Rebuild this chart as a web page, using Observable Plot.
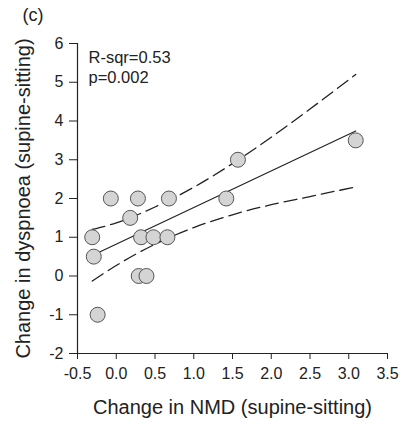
<!DOCTYPE html>
<html>
<head>
<meta charset="utf-8">
<script src="https://cdn.jsdelivr.net/npm/d3@7"></script>
<script src="https://cdn.jsdelivr.net/npm/@observablehq/plot@0.6"></script>
<style>
  html, body { margin: 0; padding: 0; background: white; }
</style>
</head>
<body>
<div id="chart"></div>
<script>
// Data
const nmd       = [-0.31, -0.29, -0.24, -0.07, 0.18, 0.28, 0.29, 0.32, 0.39, 0.48, 0.66, 0.68, 1.42, 1.57, 3.09];
const dyspnoea  = [1, 0.5, -1, 2, 1.5, 2, 0, 1, 0, 1, 1, 2, 2, 3, 3.5];

const fitX  = [-0.31, 3.09];
const fitY  = [0.53, 3.74];

const ciX   = [-0.31, 0, 0.5, 1.0, 1.5, 2.0, 2.5, 3.09];
const upper = [1.20, 1.37, 1.78, 2.29, 2.90, 3.58, 4.31, 5.20];
const lower = [-0.13, 0.27, 0.82, 1.25, 1.58, 1.84, 2.05, 2.30];

const xTicks = [-0.5, 0.0, 0.5, 1.0, 1.5, 2.0, 2.5, 3.0, 3.5];
const yTicks = [-2, -1, 0, 1, 2, 3, 4, 5, 6];

const panelLabel = "(c)";
const statLines = ["R-sqr=0.53", "p=0.002"];
const xLabel = "Change in NMD (supine-sitting)";
const yLabel = "Change in dyspnoea (supine-sitting)";

const points = nmd.map((x, i) => ({x, y: dyspnoea[i]}));
const fit = fitX.map((x, i) => ({x, y: fitY[i]}));
const up = ciX.map((x, i) => ({x, y: upper[i]}));
const lo = ciX.map((x, i) => ({x, y: lower[i]}));

const ink = "#222";
const dash = "13,6";

const chart = Plot.plot({
  width: 409,
  height: 427,
  marginLeft: 77,
  marginRight: 22,
  marginTop: 43,
  marginBottom: 74,
  style: {fontFamily: "'Liberation Sans', Arial, sans-serif", fontSize: "16px", color: ink, background: "white"},
  x: {domain: [-0.5, 3.5]},
  y: {domain: [-2, 6]},
  marks: [
    Plot.axisX({ticks: xTicks, tickFormat: d => d.toFixed(1), tickSize: 6, tickPadding: 8, label: null, fontSize: 16}),
    Plot.axisY({ticks: yTicks, tickFormat: d => String(d), tickSize: 8, tickPadding: 6, label: null, fontSize: 16}),
    Plot.ruleX([-0.5], {stroke: ink, strokeWidth: 1.2}),
    Plot.ruleY([-2], {stroke: ink, strokeWidth: 1.2}),
    Plot.line(up, {x: "x", y: "y", curve: "monotone-x", stroke: ink, strokeWidth: 1.3, strokeDasharray: dash}),
    Plot.line(lo, {x: "x", y: "y", curve: "monotone-x", stroke: ink, strokeWidth: 1.3, strokeDasharray: dash}),
    Plot.line(fit, {x: "x", y: "y", stroke: ink, strokeWidth: 1.2}),
    Plot.dot(points, {x: "x", y: "y", r: 7.5, fill: "#d4d4d4", stroke: "#555", strokeWidth: 1}),
    Plot.text([panelLabel], {frameAnchor: "top-left", dx: -55, dy: -28, textAnchor: "start", lineAnchor: "middle", fontSize: 18, fill: ink}),
    Plot.text([statLines[0]], {frameAnchor: "top-left", dx: 11, dy: 14, textAnchor: "start", lineAnchor: "middle", fontSize: 16.5, fill: ink}),
    Plot.text([statLines[1]], {frameAnchor: "top-left", dx: 11, dy: 34, textAnchor: "start", lineAnchor: "middle", fontSize: 16.5, fill: ink}),
    Plot.text([xLabel], {frameAnchor: "bottom", dy: 54, lineAnchor: "middle", fontSize: 20, fill: ink}),
    Plot.text([yLabel], {frameAnchor: "left", dx: -54, rotate: -90, textAnchor: "middle", lineAnchor: "middle", fontSize: 20, fill: ink})
  ]
});
document.getElementById("chart").appendChild(chart);
</script>
</body>
</html>
